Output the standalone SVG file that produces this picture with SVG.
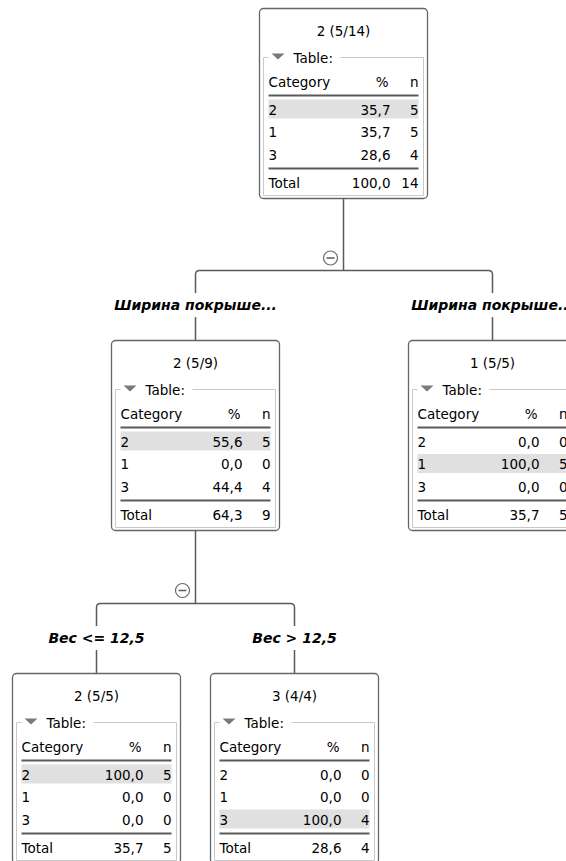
<svg xmlns="http://www.w3.org/2000/svg" width="566" height="861" viewBox="0 0 566 861">
<style>
  text { font-family: "DejaVu Sans", "Liberation Sans", sans-serif; font-size: 13.5px; fill: #000; }
  .title { text-anchor: middle; }
  .r { text-anchor: end; }
  .box { fill: #fff; stroke: #666; stroke-width: 1.3; }
  .fs { fill: none; stroke: #c8c8c8; stroke-width: 1; }
  .tri { fill: #7a7a7a; }
  .rule { stroke: #5a5a5a; stroke-width: 2; }
  .hl { fill: #e0e0e0; }
  .conn { fill: none; stroke: #5a5a5a; stroke-width: 1.5; }
  .lbl { font-size: 14px; font-weight: bold; font-style: italic; text-anchor: middle; }
  .tog { fill: #fff; stroke: #6a6a6a; stroke-width: 1.2; }
</style>
<defs>
  <g id="frame">
    <rect class="box" x="0" y="0" width="168" height="190" rx="4"/>
    <path class="fs" d="M9,49 H4 V187 H164 V49 H81"/>
    <polygon class="tri" points="12,45 25,45 18.5,51"/>
    <text x="34" y="54">Table:</text>
    <text x="9" y="78">Category</text>
    <text class="r" x="129" y="78">%</text>
    <text class="r" x="159" y="78">n</text>
    <line class="rule" x1="9" y1="87" x2="159" y2="87"/>
    <line class="rule" x1="9" y1="160" x2="159" y2="160"/>
    <text x="9" y="179">Total</text>
  </g>
</defs>

<g id="connectors">
  <path class="conn" d="M343.5,199 V270.5"/>
  <path class="conn" d="M195.5,293 V274.5 Q195.5,270.5 199.5,270.5 H488.5 Q492.5,270.5 492.5,274.5 V293"/>
  <path class="conn" d="M195.5,317 V340.5 M492.5,317 V340.5"/>
  <circle class="tog" cx="330.5" cy="258" r="7"/>
  <line class="conn" x1="326.5" y1="258" x2="334.5" y2="258" stroke-width="1.2"/>
  <text class="lbl" x="195.5" y="310">Ширина покрыше...</text>
  <text class="lbl" x="492.5" y="310">Ширина покрыше...</text>

  <path class="conn" d="M195.5,531 V603.5"/>
  <path class="conn" d="M96.5,626 V607.5 Q96.5,603.5 100.5,603.5 H290.5 Q294.5,603.5 294.5,607.5 V626"/>
  <path class="conn" d="M96.5,650 V673.5 M294.5,650 V673.5"/>
  <circle class="tog" cx="182.5" cy="590.5" r="7"/>
  <line class="conn" x1="178.5" y1="590.5" x2="186.5" y2="590.5" stroke-width="1.2"/>
  <text class="lbl" x="96.5" y="643">Вес &lt;= 12,5</text>
  <text class="lbl" x="294.5" y="643">Вес &gt; 12,5</text>
</g>

<g id="node-root" transform="translate(259.5,8.5)">
  <use href="#frame"/>
  <text class="title" x="84" y="27">2 (5/14)</text>
  <rect class="hl" x="9" y="91" width="150" height="19"/>
  <text x="9" y="106">2</text><text class="r" x="131" y="106">35,7</text><text class="r" x="159" y="106">5</text>
  <text x="9" y="128.5">1</text><text class="r" x="131" y="128.5">35,7</text><text class="r" x="159" y="128.5">5</text>
  <text x="9" y="151">3</text><text class="r" x="131" y="151">28,6</text><text class="r" x="159" y="151">4</text>
  <text class="r" x="131" y="179">100,0</text><text class="r" x="159" y="179">14</text>
</g>

<g id="node-mid-left" transform="translate(111.5,340.5)">
  <use href="#frame"/>
  <text class="title" x="84" y="27">2 (5/9)</text>
  <rect class="hl" x="9" y="91" width="150" height="19"/>
  <text x="9" y="106">2</text><text class="r" x="131" y="106">55,6</text><text class="r" x="159" y="106">5</text>
  <text x="9" y="128.5">1</text><text class="r" x="131" y="128.5">0,0</text><text class="r" x="159" y="128.5">0</text>
  <text x="9" y="151">3</text><text class="r" x="131" y="151">44,4</text><text class="r" x="159" y="151">4</text>
  <text class="r" x="131" y="179">64,3</text><text class="r" x="159" y="179">9</text>
</g>

<g id="node-mid-right" transform="translate(408.5,340.5)">
  <use href="#frame"/>
  <text class="title" x="84" y="27">1 (5/5)</text>
  <rect class="hl" x="9" y="113.5" width="150" height="19"/>
  <text x="9" y="106">2</text><text class="r" x="131" y="106">0,0</text><text class="r" x="159" y="106">0</text>
  <text x="9" y="128.5">1</text><text class="r" x="131" y="128.5">100,0</text><text class="r" x="159" y="128.5">5</text>
  <text x="9" y="151">3</text><text class="r" x="131" y="151">0,0</text><text class="r" x="159" y="151">0</text>
  <text class="r" x="131" y="179">35,7</text><text class="r" x="159" y="179">5</text>
</g>

<g id="node-bottom-left" transform="translate(12.5,673.5)">
  <use href="#frame"/>
  <text class="title" x="84" y="27">2 (5/5)</text>
  <rect class="hl" x="9" y="91" width="150" height="19"/>
  <text x="9" y="106">2</text><text class="r" x="131" y="106">100,0</text><text class="r" x="159" y="106">5</text>
  <text x="9" y="128.5">1</text><text class="r" x="131" y="128.5">0,0</text><text class="r" x="159" y="128.5">0</text>
  <text x="9" y="151">3</text><text class="r" x="131" y="151">0,0</text><text class="r" x="159" y="151">0</text>
  <text class="r" x="131" y="179">35,7</text><text class="r" x="159" y="179">5</text>
</g>

<g id="node-bottom-right" transform="translate(210.5,673.5)">
  <use href="#frame"/>
  <text class="title" x="84" y="27">3 (4/4)</text>
  <rect class="hl" x="9" y="136" width="150" height="19"/>
  <text x="9" y="106">2</text><text class="r" x="131" y="106">0,0</text><text class="r" x="159" y="106">0</text>
  <text x="9" y="128.5">1</text><text class="r" x="131" y="128.5">0,0</text><text class="r" x="159" y="128.5">0</text>
  <text x="9" y="151">3</text><text class="r" x="131" y="151">100,0</text><text class="r" x="159" y="151">4</text>
  <text class="r" x="131" y="179">28,6</text><text class="r" x="159" y="179">4</text>
</g>
</svg>
